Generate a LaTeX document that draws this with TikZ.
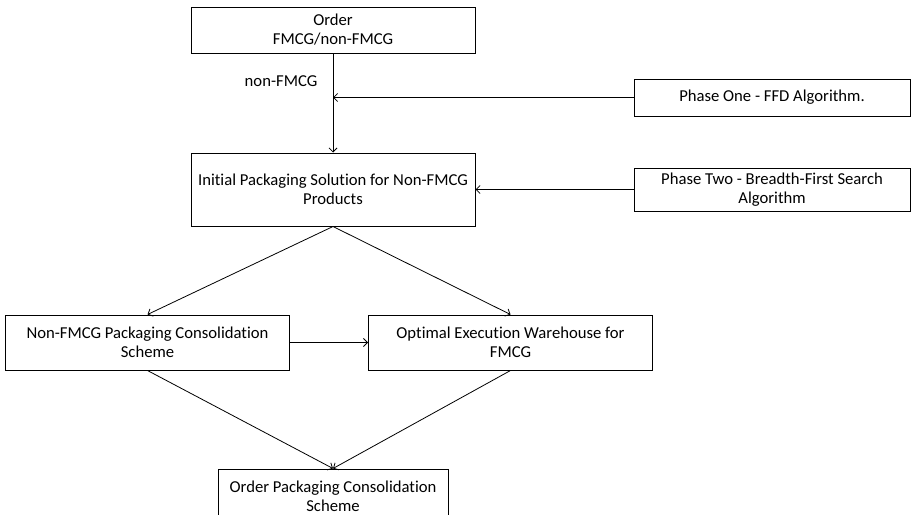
\documentclass[tikz,border=0pt]{standalone}
\usepackage{fontspec}
\setmainfont{Carlito}[Ligatures=NoCommon]
\usetikzlibrary{arrows.meta}

\begin{document}
\begin{tikzpicture}[x=0.75pt,y=-0.75pt,
	box/.style={draw,line width=0.75pt,align=center,inner sep=2pt,font=\fontsize{12.5}{14.3}\selectfont},
	wide/.style={box,minimum width=213pt,minimum height=41.25pt}]
	\useasboundingbox (0,0) rectangle (919,514);
	\node[box,minimum width=213pt,minimum height=34.5pt] (order) at (333,30) {Order\\FMCG/non-FMCG};
	\node[font=\fontsize{12.5}{14.3}\selectfont] (nonlabel) at (281,81) {non-FMCG};
	\node[box,minimum width=207pt,minimum height=27.75pt] (phaseone) at (772,97.5) {Phase One - FFD Algorithm.};
	\node[box,minimum width=213pt,minimum height=54.75pt] (initial) at (333,189.5) {Initial Packaging Solution for Non-FMCG\\Products};
	\node[box,minimum width=207pt,minimum height=32.25pt] (phasetwo) at (772,189.5) {Phase Two - Breadth-First Search\\Algorithm};
	\node[wide] (nonfmcg) at (147.5,342.5) {Non-FMCG Packaging Consolidation\\Scheme};
	\node[wide] (optimal) at (510.5,342.5) {Optimal Execution Warehouse for\\FMCG};
	\node[box,minimum width=172.5pt,minimum height=41.25pt] (orderpack) at (333,496.5) {Order Packaging Consolidation\\Scheme};
	\coordinate (onejoin) at (phaseone.west -| order.south);
	\path[-{Straight Barb[length=3pt,width=6pt]},line width=0.6pt]
	(order) edge (initial)
	(phaseone) edge (onejoin)
	(phasetwo) edge (initial)
	(initial.south) edge (nonfmcg.north)
	(initial.south) edge (optimal.north)
	(nonfmcg) edge (optimal)
	(nonfmcg.south) edge (orderpack.north)
	(optimal.south) edge (orderpack.north);
\end{tikzpicture}
\end{document}
